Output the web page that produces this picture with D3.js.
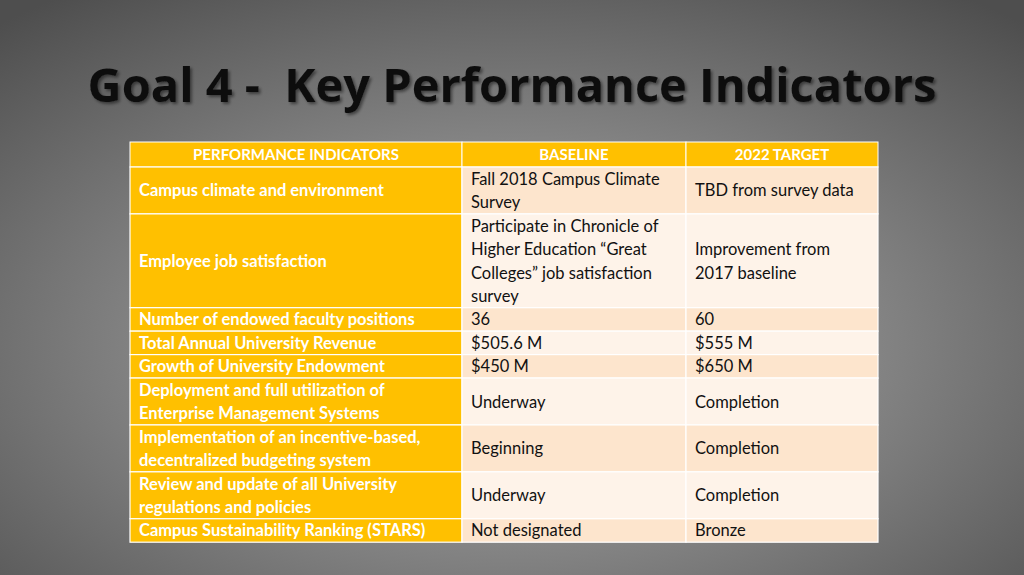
<!DOCTYPE html>
<html><head><meta charset="utf-8">
<script src="https://cdn.jsdelivr.net/npm/d3@7"></script>
<style>
body{margin:0;overflow:hidden}
svg{display:block}
</style></head>
<body>
<svg id="slide" width="1024" height="575"></svg>
<script>
var headers = ["PERFORMANCE INDICATORS", "BASELINE", "2022 TARGET"];
var indicators = [
  ["Campus climate and environment"],
  ["Employee job satisfaction"],
  ["Number of endowed faculty positions"],
  ["Total Annual University Revenue"],
  ["Growth of University Endowment"],
  ["Deployment and full utilization of", "Enterprise Management Systems"],
  ["Implementation of an incentive-based,", "decentralized budgeting system"],
  ["Review and update of all University", "regulations and policies"],
  ["Campus Sustainability Ranking (STARS)"]
];
var baselines = [
  ["Fall 2018 Campus Climate", "Survey"],
  ["Participate in Chronicle of", "Higher Education \u201cGreat", "Colleges\u201d job satisfaction", "survey"],
  ["36"], ["$505.6 M"], ["$450 M"],
  ["Underway"], ["Beginning"], ["Underway"], ["Not designated"]
];
var targets = [
  ["TBD from survey data"],
  ["Improvement from", "2017 baseline"],
  ["60"], ["$555 M"], ["$650 M"],
  ["Completion"], ["Completion"], ["Completion"], ["Bronze"]
];

var svg = d3.select("#slide");
var defs = svg.append("defs");
var grad = defs.append("radialGradient").attr("id", "bg")
  .attr("cx", "50%").attr("cy", "60%").attr("r", "75%");
grad.append("stop").attr("offset", "0%").attr("stop-color", "#b4b4b4");
grad.append("stop").attr("offset", "100%").attr("stop-color", "#4e4e4e");
var sh = defs.append("filter").attr("id", "shadow");
sh.append("feDropShadow").attr("dx", 2).attr("dy", 2).attr("stdDeviation", 1.5)
  .attr("flood-color", "#000").attr("flood-opacity", 0.45);
svg.append("rect").attr("width", 1024).attr("height", 575).attr("fill", "url(#bg)");

svg.append("text").attr("x", 512).attr("y", 102).attr("text-anchor", "middle")
  .attr("font-family", "Open Sans").attr("font-weight", "bold").attr("font-size", 47)
  .attr("fill", "#111").attr("filter", "url(#shadow)")
  .attr("xml:space", "preserve")
  .text("Goal 4 -  Key Performance Indicators");

var rows = indicators.map(function (d, i) {
  return { cells: [d, baselines[i], targets[i]], lines: Math.max(d.length, baselines[i].length, targets[i].length) };
});

var lineH = 23.45, headH = 25, tableTop = 142;
var cum = [0];
rows.forEach(function (r) { cum.push(cum[cum.length - 1] + r.lines); });
var y = d3.scaleLinear().domain([0, cum[cum.length - 1]])
  .range([tableTop + headH, tableTop + headH + cum[cum.length - 1] * lineH]);
var colEdges = [130, 462, 686, 878];
var x = d3.scaleOrdinal().domain([0, 1, 2]).range(colEdges.slice(0, 3));
function colW(c) { return colEdges[c + 1] - colEdges[c]; }

var font = "Lato, 'Open Sans', sans-serif";
var g = svg.append("g");

// header
headers.forEach(function (h, c) {
  g.append("rect").attr("x", x(c)).attr("y", tableTop).attr("width", colW(c)).attr("height", headH)
    .attr("fill", "#ffc000").attr("stroke", "#fff").attr("stroke-width", 1);
  g.append("text").attr("x", x(c) + colW(c) / 2).attr("y", tableTop + headH / 2 + 5.5)
    .attr("text-anchor", "middle").attr("font-family", font).attr("font-weight", "bold")
    .attr("font-size", 15).attr("fill", "#fff").text(h);
});

rows.forEach(function (r, i) {
  var y0 = y(cum[i]), y1 = y(cum[i + 1]);
  r.cells.forEach(function (lines, c) {
    var fill = c === 0 ? "#ffc000" : (i % 2 === 0 ? "#fde5cd" : "#fef3e9");
    g.append("rect").attr("x", x(c)).attr("y", y0).attr("width", colW(c)).attr("height", y1 - y0)
      .attr("fill", fill).attr("stroke", "#fff").attr("stroke-width", 1.2);
    var midY = (y0 + y1) / 2 - (lines.length - 1) * lineH / 2;
    var t = g.append("text").attr("font-family", font).attr("font-size", 16.5)
      .attr("font-weight", c === 0 ? "bold" : "normal")
      .attr("fill", c === 0 ? "#fff" : "#111");
    lines.forEach(function (ln, k) {
      t.append("tspan").attr("x", x(c) + 9).attr("y", midY + k * lineH + 6).text(ln);
    });
  });
});
</script>
</body></html>
